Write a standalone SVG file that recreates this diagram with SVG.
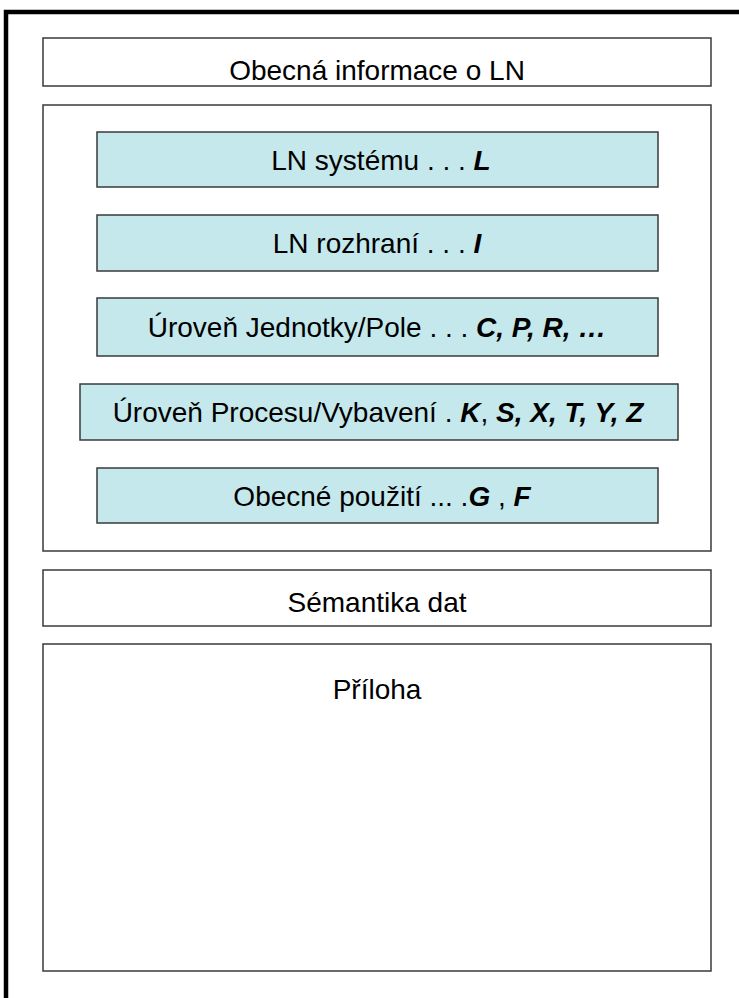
<svg xmlns="http://www.w3.org/2000/svg" width="739" height="998" viewBox="0 0 739 998">
  <style>
    .box { fill: #ffffff; stroke: #3a3a3a; stroke-width: 1.5; }
    .ln { fill: #c4e8ec; stroke: #3a3a3a; stroke-width: 1.5; }
    .t { font-family: "Liberation Sans", Arial, sans-serif; font-size: 28px; fill: #000000; text-anchor: middle; }
    .b { font-weight: bold; font-style: italic; }
  </style>
  <rect x="0" y="0" width="739" height="998" fill="#ffffff"/>
  <!-- page frame (top and left edges) -->
  <path d="M6 998 V12 H739" fill="none" stroke="#000000" stroke-width="4.5"/>

  <g id="general-info">
    <rect class="box" x="43" y="38" width="668" height="48"/>
    <text class="t" x="377" y="80">Obecná informace o LN</text>
  </g>

  <g id="ln-groups">
    <rect class="box" x="43" y="105" width="668" height="446"/>
  </g>

  <g id="ln-system">
    <rect class="ln" x="97" y="132" width="561" height="55"/>
    <text class="t" x="381" y="170">LN systému . . . <tspan class="b">L</tspan></text>
  </g>

  <g id="ln-interface">
    <rect class="ln" x="97" y="215" width="561" height="56"/>
    <text class="t" x="377" y="253">LN rozhraní . . . <tspan class="b">I</tspan></text>
  </g>

  <g id="bay-level">
    <rect class="ln" x="97" y="298" width="561" height="58"/>
    <text class="t" x="377" y="337">Úroveň Jednotky/Pole . . . <tspan class="b">C, P, R, …</tspan></text>
  </g>

  <g id="process-level">
    <rect class="ln" x="80" y="384" width="598" height="56"/>
    <text class="t" x="378" y="422">Úroveň Procesu/Vybavení . <tspan class="b">K</tspan>, <tspan class="b">S, X, T, Y, Z</tspan></text>
  </g>

  <g id="generic-use">
    <rect class="ln" x="97" y="468" width="561" height="55"/>
    <text class="t" x="382" y="506">Obecné použití ... .<tspan class="b">G</tspan> , <tspan class="b">F</tspan></text>
  </g>

  <g id="data-semantics">
    <rect class="box" x="43" y="570" width="668" height="56"/>
    <text class="t" x="377" y="612">Sémantika dat</text>
  </g>

  <g id="annex">
    <rect class="box" x="43" y="644" width="668" height="327"/>
    <text class="t" x="377" y="699">Příloha</text>
  </g>

  <g id="connectors"></g>
</svg>
